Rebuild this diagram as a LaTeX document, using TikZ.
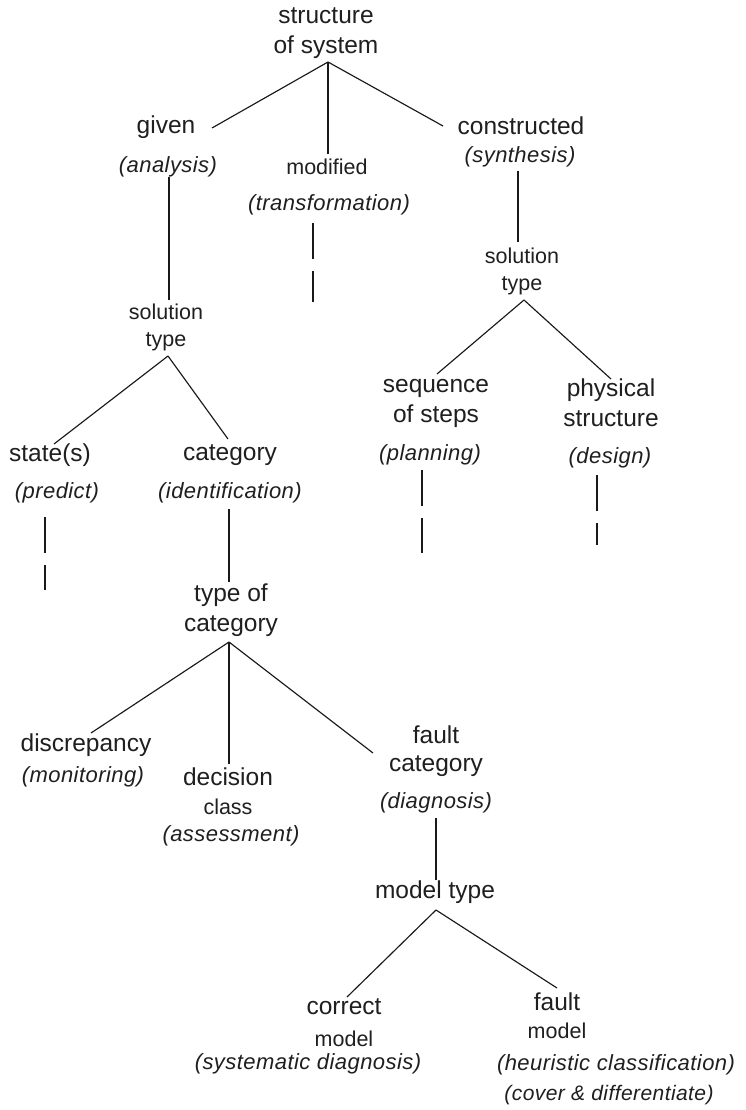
\documentclass[tikz,border=0pt]{standalone}
\usepackage{fontspec}
\setmainfont{Liberation Sans}
\newfontfamily\labfont[LetterSpace=2]{Liberation Sans}
\begin{document}
\begin{tikzpicture}[x=1pt,y=-1pt,
  every node/.style={inner sep=0pt, align=center, text=black!88},
  main/.style={font=\fontsize{24.5}{30}\selectfont},
  mainb/.style={font=\fontsize{24.5}{28}\selectfont},
  sm/.style={font=\fontsize{21.5}{27}\selectfont},
  lab/.style={font=\labfont\fontsize{22}{26}\selectfont\itshape},
  labs/.style={font=\labfont\fontsize{21}{26}\selectfont\itshape},
  edge/.style={line width=1.15pt, black!90},
  stub/.style={line width=1.15pt, black!90, dash pattern=on 36pt off 12pt}]
\fill[white] (0,0) rectangle (745,1110);
\useasboundingbox (0,0) rectangle (745,1110);

% nodes
\node[main] (root) at (326,33) {structure\\of system};
\node[main] (given) at (166,127) {given};
\node[lab] (analysis) at (168,167) {(analysis)};
\node[sm] (modified) at (327,167) {modified};
\node[lab] (transformation) at (329,205) {(transformation)};
\node[main] (constructed) at (521,126) {constructed};
\node[lab] (synthesis) at (520,157) {(synthesis)};
\node[sm] (soltL) at (166,327) {solution\\type};
\node[sm] (soltR) at (522,271) {solution\\type};
\node[main] (states) at (50,455) {state(s)};
\node[lab] (predict) at (57,493) {(predict)};
\node[main] (category) at (230,455) {category};
\node[lab] (identification) at (230,493) {(identification)};
\node[main] (seq) at (436,403) {sequence\\of steps};
\node[lab] (planning) at (430,455) {(planning)};
\node[main] (phys) at (611,403) {physical\\structure};
\node[lab] (design) at (610,458) {(design)};
\node[main] (toc) at (231,610) {type of\\category};
\node[main] (discrepancy) at (86,745) {discrepancy};
\node[lab] (monitoring) at (83,777) {(monitoring)};
\node[main] (decision) at (228,777) {decision};
\node[sm] (class) at (228,807) {class};
\node[lab] (assessment) at (231,836) {(assessment)};
\node[mainb] (faultcat) at (436,751) {fault\\category};
\node[lab] (diagnosis) at (436,803) {(diagnosis)};
\node[main] (modeltype) at (435,892) {model type};
\node[main] (correct) at (344,1007) {correct};
\node[sm] (cmodel) at (344,1039) {model};
\node[lab] (sysdiag) at (308,1064) {(systematic diagnosis)};
\node[main] (fault) at (557,1002) {fault};
\node[sm] (fmodel) at (557,1031) {model};
\node[lab] (heur) at (616,1065) {(heuristic classification)};
\node[labs] (cover) at (609,1095) {(cover \& differentiate)};

% connector points
\coordinate (root-out) at (328,62);
\coordinate (given-in) at (212,128);
\coordinate (modified-in) at (328,154);
\coordinate (constructed-in) at (443,126);
\coordinate (analysis-out) at (169,177);
\coordinate (soltL-in) at (169,300);
\coordinate (transformation-out) at (313,223);
\coordinate (transformation-end) at (313,302);
\coordinate (synthesis-out) at (518,171);
\coordinate (soltR-in) at (518,242);
\coordinate (soltL-out) at (168,356);
\coordinate (states-in) at (54,444);
\coordinate (category-in) at (228,439);
\coordinate (soltR-out) at (524,300);
\coordinate (seq-in) at (437,374);
\coordinate (phys-in) at (611,379);
\coordinate (predict-out) at (45,517);
\coordinate (predict-end) at (45,590);
\coordinate (identification-out) at (229,509);
\coordinate (toc-in) at (229,582);
\coordinate (planning-out) at (422,470);
\coordinate (planning-end) at (422,553);
\coordinate (design-out) at (597,475);
\coordinate (design-end) at (597,545);
\coordinate (toc-out) at (229,642);
\coordinate (discrepancy-in) at (91,733);
\coordinate (decision-in) at (229,764);
\coordinate (faultcat-in) at (373,753);
\coordinate (diagnosis-out) at (436,818);
\coordinate (modeltype-in) at (436,880);
\coordinate (modeltype-out) at (436,910);
\coordinate (correct-in) at (347,997);
\coordinate (fault-in) at (557,988);

% connectors
\draw[edge] (root-out) -- (given-in);
\draw[edge] (root-out) -- (modified-in);
\draw[edge] (root-out) -- (constructed-in);
\draw[edge] (analysis-out) -- (soltL-in);
\draw[stub] (transformation-out) -- (transformation-end);
\draw[edge] (synthesis-out) -- (soltR-in);
\draw[edge] (soltL-out) -- (states-in);
\draw[edge] (soltL-out) -- (category-in);
\draw[edge] (soltR-out) -- (seq-in);
\draw[edge] (soltR-out) -- (phys-in);
\draw[stub] (predict-out) -- (predict-end);
\draw[edge] (identification-out) -- (toc-in);
\draw[stub] (planning-out) -- (planning-end);
\draw[stub] (design-out) -- (design-end);
\draw[edge] (toc-out) -- (discrepancy-in);
\draw[edge] (toc-out) -- (decision-in);
\draw[edge] (toc-out) -- (faultcat-in);
\draw[edge] (diagnosis-out) -- (modeltype-in);
\draw[edge] (modeltype-out) -- (correct-in);
\draw[edge] (modeltype-out) -- (fault-in);
\end{tikzpicture}
\end{document}
